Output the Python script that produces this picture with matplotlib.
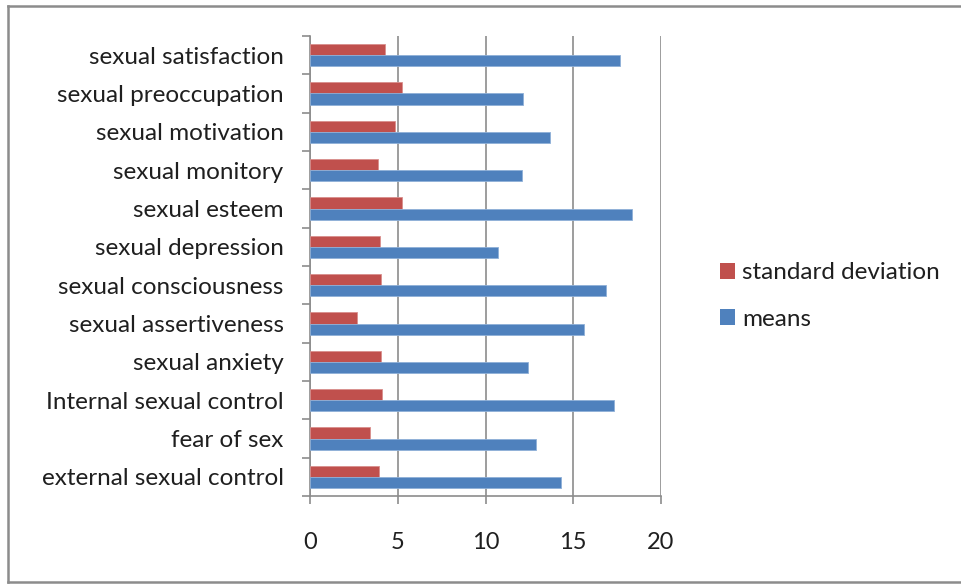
import matplotlib
matplotlib.use("Agg")
import matplotlib.pyplot as plt
from matplotlib.patches import Patch
from matplotlib.lines import Line2D
import numpy as np

categories = ["external sexual control", "fear of sex", "Internal sexual control",
              "sexual anxiety", "sexual assertiveness", "sexual consciousness",
              "sexual depression", "sexual esteem", "sexual monitory",
              "sexual motivation", "sexual preoccupation", "sexual satisfaction"]
means = [14.30, 12.85, 17.30, 12.40, 15.64, 16.88, 10.73, 18.36, 12.08, 13.67, 12.15, 17.68]
std_dev = [3.93, 3.40, 4.10, 4.06, 2.68, 4.04, 3.99, 5.26, 3.87, 4.86, 5.26, 4.25]
x_ticks = [0, 5, 10, 15, 20]

plt.rcParams['font.family'] = ['Lato', 'DejaVu Sans']
W, H = 961, 584
fig = plt.figure(figsize=(W / 100, H / 100), dpi=100)
ax = fig.add_axes([310 / W, 88 / H, 351 / W, 460 / H])

red = '#C0504D'
blue = '#4F81BD'
grey = '#8c8c8c'
txt = '#1f1f1f'
fs = 17.5

y = np.arange(len(categories))
h = 0.287
ax.barh(y + h / 2, std_dev, height=h, color=red, edgecolor='#d98f8d', linewidth=0.6, zorder=3)
ax.barh(y - h / 2, means, height=h, color=blue, edgecolor='#8fb0d8', linewidth=0.6, zorder=3)

ax.set_xlim(0, 20)
ax.set_ylim(-0.5, len(categories) - 0.5)
ax.set_xticks(x_ticks)
ax.set_xticklabels([str(t) for t in x_ticks])
ax.set_yticks(y)
ax.set_yticklabels(categories)
ax.set_yticks(np.arange(-0.5, len(categories)), minor=True)

ax.grid(axis='x', color=grey, linewidth=1.2, zorder=0)
for s in ['top', 'right']:
    ax.spines[s].set_visible(False)
for s in ['left', 'bottom']:
    ax.spines[s].set_color(grey)
    ax.spines[s].set_linewidth(1.2)

ax.tick_params(axis='y', which='major', length=0, pad=19, labelsize=fs, labelcolor=txt)
ax.tick_params(axis='y', which='minor', length=6, width=1.2, color=grey, direction='out')
ax.tick_params(axis='x', which='major', length=6, width=1.2, color=grey, direction='out',
               pad=20, labelsize=17, labelcolor=txt)

handles = [Patch(facecolor=red, edgecolor='none'), Patch(facecolor=blue, edgecolor='none')]
fig.legend(handles, ['standard deviation', 'means'], loc='center left',
           bbox_to_anchor=(698 / W, 1 - 296 / H), frameon=False, fontsize=fs,
           handlelength=0.62, handleheight=0.62, handletextpad=0.3, labelspacing=1.05,
           labelcolor=txt)

# outer chart border
bx0, by0, by1 = 8 / W, 1 - 582 / H, 1 - 6 / H
for xs, ys in [([bx0, bx0], [by0, by1]), ([bx0, 1.01], [by1, by1]), ([bx0, 1.01], [by0, by0])]:
    fig.add_artist(Line2D(xs, ys, transform=fig.transFigure, color=grey, linewidth=1.8))

fig.savefig('out.png', dpi=100)
